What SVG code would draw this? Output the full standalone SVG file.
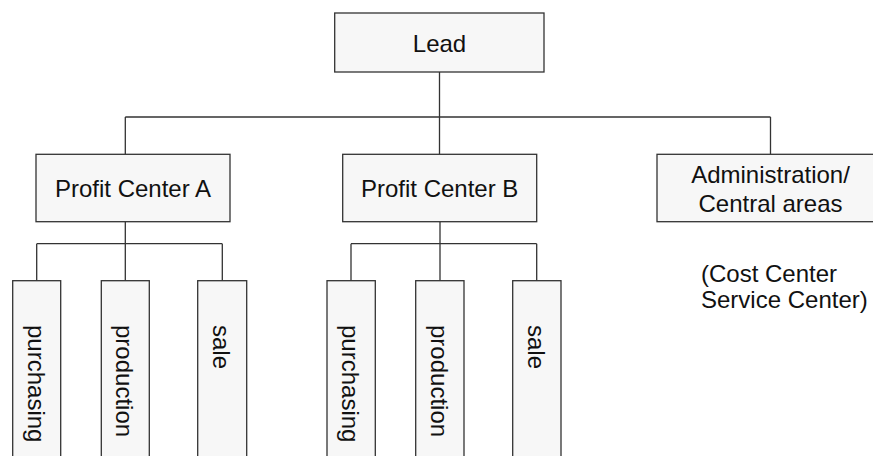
<svg xmlns="http://www.w3.org/2000/svg" width="873" height="456" viewBox="0 0 873 456">
  <style>
    .box { fill: #f7f7f7; stroke: #333333; stroke-width: 1.3; }
    .lbl { font-family: "Liberation Sans", Arial, sans-serif; font-size: 24px; fill: #111111; }
    .mid { text-anchor: middle; }
    .wire { fill: none; stroke: #333333; stroke-width: 1.3; }
  </style>
  <rect width="873" height="456" fill="#ffffff"/>

  <!-- connectors -->
  <g id="connectors" class="wire">
    <path d="M439.5 72 V154 M125.3 117 H770.5 M125.3 117 V154 M770.5 117 V154"/>
    <path d="M125.3 221.7 V280.7 M36.7 243.7 H222.3 M36.7 243.7 V280.7 M222.3 243.7 V280.7"/>
    <path d="M440 221.7 V280.7 M351 243.7 H536.7 M351 243.7 V280.7 M536.7 243.7 V280.7"/>
  </g>

  <g id="lead">
    <rect class="box" x="334.7" y="13" width="209.3" height="59"/>
    <text class="lbl mid" x="439.5" y="52.3">Lead</text>
  </g>

  <g id="profit-center-a">
    <rect class="box" x="36" y="154.3" width="194" height="67.4"/>
    <text class="lbl mid" x="133" y="196.7">Profit Center A</text>
  </g>

  <g id="profit-center-b">
    <rect class="box" x="342.7" y="154.3" width="194" height="67.4"/>
    <text class="lbl mid" x="439.7" y="196.7">Profit Center B</text>
  </g>

  <g id="administration">
    <rect class="box" x="657" y="154.3" width="227" height="67.4"/>
    <text class="lbl mid" x="770.5" y="183">Administration/</text>
    <text class="lbl mid" x="770.5" y="211.7">Central areas</text>
  </g>

  <g id="cost-service-note">
    <text class="lbl" x="701" y="281.7">(Cost Center</text>
    <text class="lbl" x="701" y="308.3">Service Center)</text>
  </g>

  <!-- departments under Profit Center A -->
  <g id="a-purchasing">
    <rect class="box" x="12.7" y="280.7" width="48" height="190"/>
    <text class="lbl" transform="translate(27.5 325) rotate(90)">purchasing</text>
  </g>
  <g id="a-production">
    <rect class="box" x="101.3" y="280.7" width="48" height="190"/>
    <text class="lbl" transform="translate(116.3 325) rotate(90)">production</text>
  </g>
  <g id="a-sale">
    <rect class="box" x="197.7" y="280.7" width="49" height="190"/>
    <text class="lbl" transform="translate(212.7 325) rotate(90)">sale</text>
  </g>

  <!-- departments under Profit Center B -->
  <g id="b-purchasing">
    <rect class="box" x="327" y="280.7" width="48.3" height="190"/>
    <text class="lbl" transform="translate(342 325) rotate(90)">purchasing</text>
  </g>
  <g id="b-production">
    <rect class="box" x="415.7" y="280.7" width="48.3" height="190"/>
    <text class="lbl" transform="translate(430.7 325) rotate(90)">production</text>
  </g>
  <g id="b-sale">
    <rect class="box" x="512.7" y="280.7" width="48.3" height="190"/>
    <text class="lbl" transform="translate(527.7 325) rotate(90)">sale</text>
  </g>
</svg>
